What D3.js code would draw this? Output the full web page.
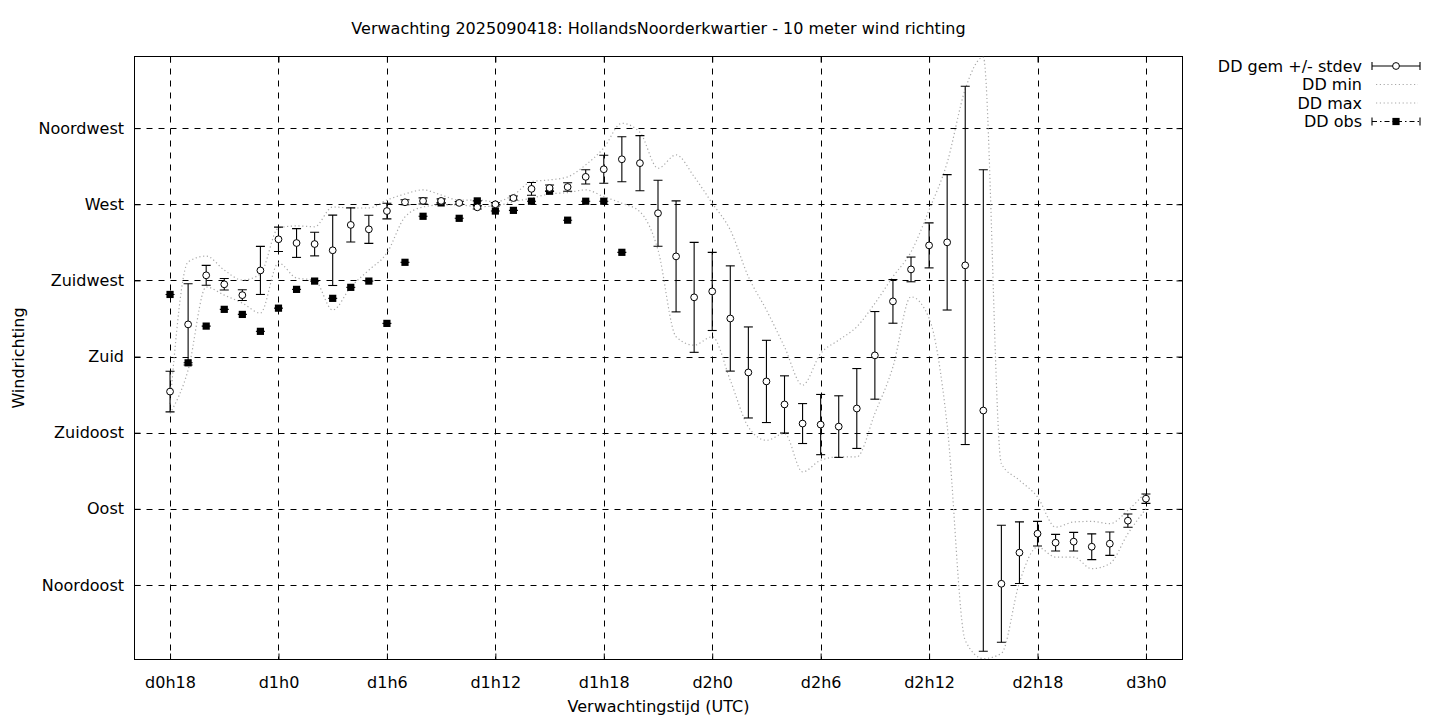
<!DOCTYPE html>
<html><head><meta charset="utf-8">
<script src="https://cdn.jsdelivr.net/npm/d3@7"></script>
<style>
body{margin:0;background:#fff}
svg{display:block}
text{font-family:"DejaVu Sans",sans-serif;fill:#000}
</style>
</head><body>
<svg id="chart" width="1440" height="720"></svg>
<script>
// ---------- data ----------
const hours = [18,19,20,21,22,23,24,25,26,27,28,29,30,31,32,33,34,35,36,37,38,39,40,41,42,43,44,45,46,47,48,49,50,51,52,53,54,55,56,57,58,59,60,61,62,63,64,65,66,67,68,69,70,71,72];
const ddMean = [159.3,199.0,228.0,222.7,216.3,230.9,249.3,247.1,246.5,242.8,
  257.8,255.2,266.0,271.2,272.0,272.0,270.8,268.2,270.0,273.7,
  279.1,279.6,280.2,286.2,290.7,296.6,294.3,264.7,239.2,215.0,
  218.5,202.5,170.6,165.3,151.7,140.4,139.8,138.6,149.3,180.7,
  212.6,231.5,245.7,247.5,233.9,148.1,45.7,64.1,75.3,70.0,
  70.6,67.6,69.4,83.0,96.0];
const ddStdev = [12.0,24.0,5.9,3.4,3.2,14.2,7.2,8.5,7.0,20.8,
  10.1,8.3,4.6,1.5,1.8,1.2,0.8,1.0,1.0,1.2,
  3.8,1.8,2.5,4.2,8.3,13.3,16.3,19.5,32.8,32.5,
  23.1,31.1,26.9,24.3,16.9,11.8,17.8,18.2,23.6,25.9,
  12.9,7.3,13.3,40.0,105.9,142.3,34.6,18.2,7.3,4.9,
  5.5,7.6,6.9,3.9,2.8];
const ddMin = [146.3,172.0,221.1,216.3,211.6,205.7,235.3,226.4,225.2,207.5,
  221.1,231.1,241.2,262.5,268.4,269.6,269.6,268.6,269.0,271.5,
  273.6,276.1,276.9,278.5,274.5,270.6,265.6,243.0,191.7,186.7,
  191.7,166.0,138.4,130.5,134.5,111.8,118.7,120.7,120.7,146.3,
  173.9,215.3,202.7,139.4,12.2,1.5,4.5,46.5,67.4,61.5,
  61.5,54.6,57.6,75.3,90.1];
const ddMax = [152.0,235.9,239.4,231.1,225.2,228.8,256.0,257.2,256.7,268.4,
  267.8,267.8,272.5,276.1,278.5,275.5,272.5,272.5,271.5,275.5,
  283.4,284.4,286.2,293.3,303.3,317.9,312.5,291.3,299.2,286.3,
  270.6,254.8,227.2,207.5,185.7,163.1,181.8,189.7,197.6,211.4,
  227.2,241.8,266.6,294.6,338.0,357.0,116.7,106.9,97.0,79.2,
  82.2,82.6,81.2,89.1,99.9];
const obsHours = [18,19,20,21,22,23,24,25,26,27,28,29,30,31,32,33,34,35,36,37,38,39,40,41,42,43];
const ddObs = [216.7,176.3,198.0,207.9,204.9,194.9,208.6,219.7,224.6,214.4,
  220.9,224.6,199.6,235.7,262.9,270.8,261.7,272.0,266.0,266.4,
  271.8,277.7,260.6,271.8,271.8,241.6];
const yTickValues = [45,90,135,180,225,270,315];
const yTickLabels = ["Noordoost","Oost","Zuidoost","Zuid","Zuidwest","West","Noordwest"];
const xTickValues = [18,24,30,36,42,48,54,60,66,72];
const xTickLabels = ["d0h18","d1h0","d1h6","d1h12","d1h18","d2h0","d2h6","d2h12","d2h18","d3h0"];
const titleText = "Verwachting 2025090418: HollandsNoorderkwartier - 10 meter wind richting";
const legendLabels = ["DD gem +/- stdev","DD min","DD max","DD obs"];

// ---------- layout ----------
const L = 134.5, R = 1182.5, T = 56.5, B = 659.5;
const svg = d3.select("#chart");
const x = d3.scaleLinear().domain([16, 74]).range([133.9, 1182.1]);
const y = d3.scaleLinear().domain([0, 360]).range([661.1, 52.0]);
const FS = 16;

svg.append("defs").append("clipPath").attr("id","clip")
  .append("rect").attr("x",L).attr("y",T).attr("width",R-L).attr("height",B-T);

// grid
const grid = svg.append("g").attr("stroke","#000").attr("stroke-width",1).attr("stroke-dasharray","6,6");
xTickValues.forEach(v => {
  const px = Math.round(x(v)) + 0.5;
  grid.append("line").attr("x1",px).attr("x2",px).attr("y1",T).attr("y2",B);
});
yTickValues.forEach(v => {
  const py = Math.round(y(v)) + 0.5;
  grid.append("line").attr("x1",L).attr("x2",R).attr("y1",py).attr("y2",py);
});

// axes via d3 axis (labels), ticks inward
const xAxis = d3.axisBottom(x).tickValues(xTickValues).tickFormat((d,i)=>xTickLabels[i]).tickSizeInner(-6).tickSizeOuter(0).tickPadding(17);
const gx = svg.append("g").attr("transform",`translate(0,${B})`).call(xAxis);
gx.select(".domain").remove();
gx.selectAll("text").attr("font-size",FS).attr("font-family","DejaVu Sans").attr("fill","#000");
gx.selectAll("line").attr("stroke","#000");

const yAxis = d3.axisLeft(y).tickValues(yTickValues).tickFormat((d,i)=>yTickLabels[i]).tickSizeInner(-6).tickSizeOuter(0).tickPadding(10.5);
const gy = svg.append("g").attr("transform",`translate(${L},0)`).call(yAxis);
gy.select(".domain").remove();
gy.selectAll("text").attr("font-size",FS).attr("font-family","DejaVu Sans").attr("fill","#000");
gy.selectAll("line").attr("stroke","#000");

// mirrored ticks
const gxt = svg.append("g").attr("transform",`translate(0,${T})`).call(d3.axisTop(x).tickValues(xTickValues).tickFormat("").tickSizeInner(-6).tickSizeOuter(0));
gxt.select(".domain").remove(); gxt.selectAll("line").attr("stroke","#000");
const gyr = svg.append("g").attr("transform",`translate(${R},0)`).call(d3.axisRight(y).tickValues(yTickValues).tickFormat("").tickSizeInner(-6).tickSizeOuter(0));
gyr.select(".domain").remove(); gyr.selectAll("line").attr("stroke","#000");

// border
svg.append("rect").attr("x",L).attr("y",T).attr("width",R-L).attr("height",B-T)
  .attr("fill","none").attr("stroke","#000").attr("stroke-width",1);

// min / max dotted lines
const plot = svg.append("g").attr("clip-path","url(#clip)");
const lineOf = arr => d3.line().x((d,i)=>x(hours[i])).y(d=>y(d)).curve(d3.curveMonotoneX)(arr);
[ddMin, ddMax].forEach(arr => {
  plot.append("path").attr("d", lineOf(arr)).attr("fill","none")
    .attr("stroke","#a8a8a8").attr("stroke-width",1.2).attr("stroke-dasharray","1.2,2.6");
});

// error bars (mean +/- stdev)
const CAP = 4.5;
const eb = plot.append("g").attr("stroke","#000").attr("stroke-width",1.1);
hours.forEach((h,i) => {
  const px = x(h), y1 = y(ddMean[i]+ddStdev[i]), y2 = y(ddMean[i]-ddStdev[i]);
  eb.append("line").attr("x1",px).attr("x2",px).attr("y1",y1).attr("y2",y2);
  eb.append("line").attr("x1",px-CAP).attr("x2",px+CAP).attr("y1",y1).attr("y2",y1);
  eb.append("line").attr("x1",px-CAP).attr("x2",px+CAP).attr("y1",y2).attr("y2",y2);
});

// obs: zero-width error bars (caps) + filled squares
const ob = plot.append("g");
obsHours.forEach((h,i) => {
  const px = x(h), py = y(ddObs[i]);
  ob.append("line").attr("x1",px-CAP).attr("x2",px+CAP).attr("y1",py).attr("y2",py).attr("stroke","#000").attr("stroke-width",1.1);
  ob.append("rect").attr("x",px-3.6).attr("y",py-3.6).attr("width",7.2).attr("height",7.2).attr("fill","#000");
});

// mean circles
plot.append("g").selectAll("circle").data(hours).join("circle")
  .attr("cx",h=>x(h)).attr("cy",(h,i)=>y(ddMean[i])).attr("r",3.4)
  .attr("fill","#fff").attr("stroke","#000").attr("stroke-width",1);

// title and axis labels
svg.append("text").attr("x",(L+R)/2).attr("y",34).attr("text-anchor","middle").attr("font-size",FS).text(titleText);
svg.append("text").attr("x",(L+R)/2).attr("y",712).attr("text-anchor","middle").attr("font-size",FS).text("Verwachtingstijd (UTC)");
svg.append("text").attr("transform",`translate(24,${(T+B)/2}) rotate(-90)`).attr("text-anchor","middle").attr("font-size",FS).text("Windrichting");

// legend
const lg = svg.append("g");
const rowY = [66, 84.5, 103, 121.5];
const sx1 = 1372, sx2 = 1420, sxc = 1396;
legendLabels.forEach((t,i) => {
  lg.append("text").attr("x",1362).attr("y",rowY[i]+5.5).attr("text-anchor","end").attr("font-size",FS).text(t);
});
// gem
lg.append("line").attr("x1",sx1).attr("x2",sx2).attr("y1",rowY[0]).attr("y2",rowY[0]).attr("stroke","#000").attr("stroke-width",1.1);
[sx1,sx2].forEach(v=>lg.append("line").attr("x1",v).attr("x2",v).attr("y1",rowY[0]-4).attr("y2",rowY[0]+4).attr("stroke","#000").attr("stroke-width",1.1));
lg.append("circle").attr("cx",sxc).attr("cy",rowY[0]).attr("r",3.4).attr("fill","#fff").attr("stroke","#000");
// min/max
[1,2].forEach(i=>lg.append("line").attr("x1",sx1+4).attr("x2",sx2-2).attr("y1",rowY[i]).attr("y2",rowY[i])
  .attr("stroke","#a8a8a8").attr("stroke-width",1.2).attr("stroke-dasharray","1.2,2.6"));
// obs
lg.append("line").attr("x1",sx1).attr("x2",sx2).attr("y1",rowY[3]).attr("y2",rowY[3]).attr("stroke","#000").attr("stroke-width",1.1).attr("stroke-dasharray","5,3,1.5,3");
[sx1,sx2].forEach(v=>lg.append("line").attr("x1",v).attr("x2",v).attr("y1",rowY[3]-4).attr("y2",rowY[3]+4).attr("stroke","#000").attr("stroke-width",1.1));
lg.append("rect").attr("x",sxc-3.6).attr("y",rowY[3]-3.6).attr("width",7.2).attr("height",7.2).attr("fill","#000");
</script>
</body></html>
